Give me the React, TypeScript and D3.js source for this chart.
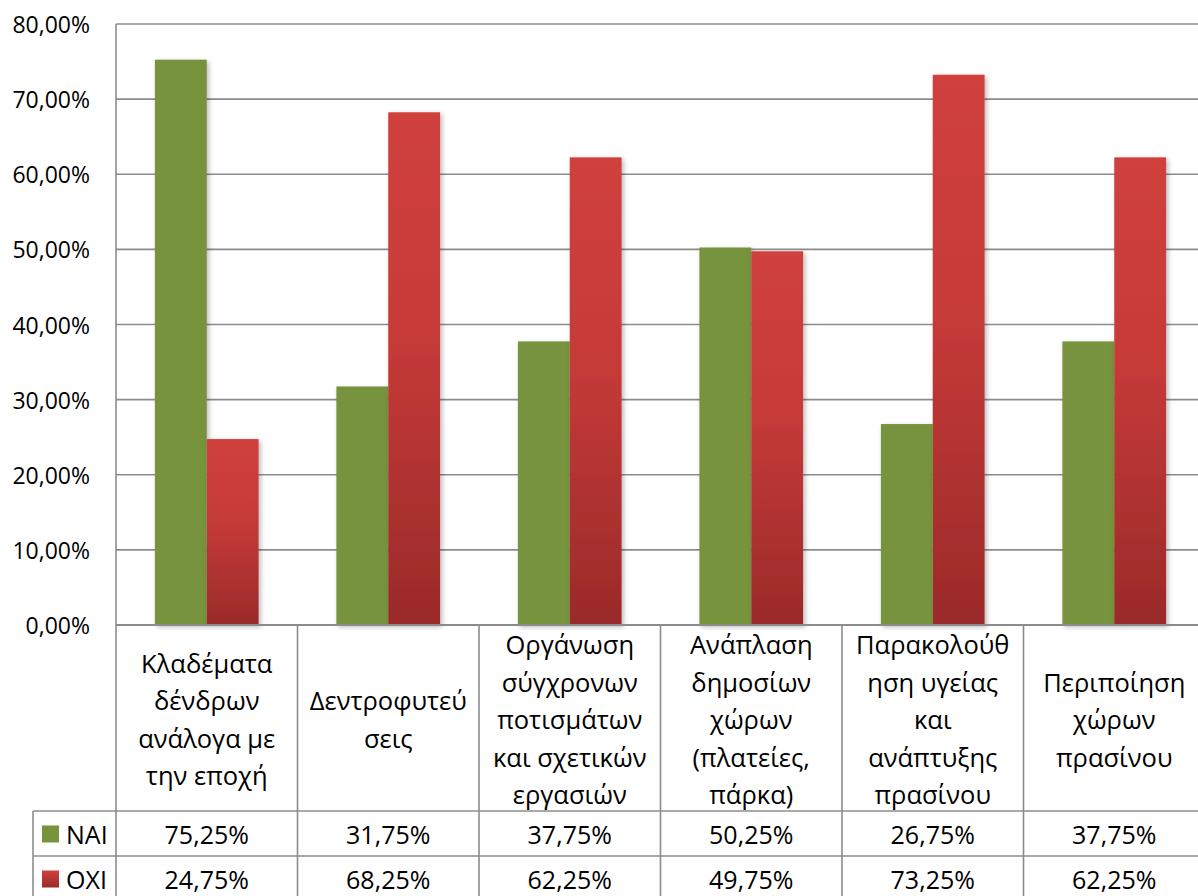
import React from "react";
import * as d3 from "d3";

const categories: string[][] = [
  ["Κλαδέματα", "δένδρων", "ανάλογα με", "την εποχή"],
  ["Δεντροφυτεύ", "σεις"],
  ["Οργάνωση", "σύγχρονων", "ποτισμάτων", "και σχετικών", "εργασιών"],
  ["Ανάπλαση", "δημοσίων", "χώρων", "(πλατείες,", "πάρκα)"],
  ["Παρακολούθ", "ηση υγείας", "και", "ανάπτυξης", "πρασίνου"],
  ["Περιποίηση", "χώρων", "πρασίνου"],
];
const seriesNames = ["NAI", "OXI"];
const naiValues = [75.25, 31.75, 37.75, 50.25, 26.75, 37.75];
const oxiValues = [24.75, 68.25, 62.25, 49.75, 73.25, 62.25];
const yTicks = [0, 10, 20, 30, 40, 50, 60, 70, 80];

const W = 1198;
const H = 896;
const plotLeft = 116;
const plotTop = 24;
const plotBottom = 625;
const catWidth = 181.5;
const headerBottom = 811;
const row1Bottom = 856;
const row2Bottom = 901;
const tableLeft = 33;
const FONT = "'Open Sans', 'Noto Sans', sans-serif";
const GRID = "#8c8c8c";
const GREEN = "#77933c";

const fmt = (v: number) => v.toFixed(2).replace(".", ",") + "%";

export default function App() {
  const x0 = d3
    .scaleBand<number>()
    .domain(categories.map((_, i) => i))
    .range([plotLeft, plotLeft + catWidth * categories.length])
    .paddingInner(0)
    .paddingOuter(0);
  const barW = catWidth / 3.5;
  const x1 = d3
    .scaleBand<number>()
    .domain([0, 1])
    .range([x0.bandwidth() / 2 - barW, x0.bandwidth() / 2 + barW]);
  const y = d3.scaleLinear().domain([0, 80]).range([plotBottom, plotTop]);
  const series = [naiValues, oxiValues];
  const rightEdge = plotLeft + catWidth * categories.length;
  const lineH = 37.5;
  const headerMid = (plotBottom + headerBottom) / 2 + 1;

  return (
    <svg
      width={W}
      height={H}
      style={{ position: "absolute", left: 0, top: 0, background: "#fff" }}
      fontFamily={FONT}
    >
      <defs>
        <linearGradient id="redGrad" x1="0" y1="0" x2="0" y2="1">
          <stop offset="0%" stopColor="#d0403d" />
          <stop offset="45%" stopColor="#c53a38" />
          <stop offset="100%" stopColor="#9a2a29" />
        </linearGradient>
        <linearGradient id="redLegend" x1="0" y1="0" x2="0" y2="1">
          <stop offset="0%" stopColor="#d0403d" />
          <stop offset="100%" stopColor="#9a2a29" />
        </linearGradient>
        <filter id="shadow" x="-20%" y="-5%" width="140%" height="110%">
          <feDropShadow dx="2" dy="2" stdDeviation="2.5" floodColor="#000" floodOpacity="0.28" />
        </filter>
      </defs>

      {/* gridlines */}
      {yTicks.map((t) => (
        <line key={t} x1={plotLeft} x2={rightEdge} y1={y(t)} y2={y(t)} stroke={GRID} strokeWidth={1.6} />
      ))}
      {/* tick labels */}
      {yTicks.map((t) => (
        <text
          key={"l" + t}
          x={90}
          y={y(t)}
          textAnchor="end"
          dominantBaseline="central"
          fontSize={23}
          fill="#000"
        >
          {fmt(t)}
        </text>
      ))}

      {/* bars */}
      {categories.map((_, i) => (
        <g key={"g" + i} transform={`translate(${x0(i)},0)`}>
          {series.map((vals, s) => (
            <rect
              key={s}
              x={x1(s)}
              y={y(vals[i])}
              width={x1.bandwidth()}
              height={plotBottom - y(vals[i])}
              fill={s === 0 ? GREEN : "url(#redGrad)"}
              filter="url(#shadow)"
            />
          ))}
        </g>
      ))}

      {/* axis line at 0 */}
      <line x1={plotLeft} x2={rightEdge} y1={plotBottom} y2={plotBottom} stroke={GRID} strokeWidth={2} />
      {/* left vertical line */}
      <line x1={plotLeft} x2={plotLeft} y1={plotTop} y2={H} stroke={GRID} strokeWidth={1.6} />

      {/* table lines */}
      {categories.map((_, i) =>
        i === 0 ? null : (
          <line
            key={"v" + i}
            x1={x0(i)!}
            x2={x0(i)!}
            y1={plotBottom}
            y2={H}
            stroke={GRID}
            strokeWidth={1.6}
          />
        )
      )}
      <line x1={tableLeft} x2={rightEdge} y1={headerBottom} y2={headerBottom} stroke={GRID} strokeWidth={1.6} />
      <line x1={tableLeft} x2={rightEdge} y1={row1Bottom} y2={row1Bottom} stroke={GRID} strokeWidth={1.6} />
      <line x1={tableLeft} x2={rightEdge} y1={row2Bottom} y2={row2Bottom} stroke={GRID} strokeWidth={1.6} />
      <line x1={tableLeft} x2={tableLeft} y1={headerBottom} y2={H} stroke={GRID} strokeWidth={1.6} />

      {/* category labels */}
      {categories.map((lines, i) => {
        const cx = x0(i)! + catWidth / 2;
        const start = headerMid - ((lines.length - 1) * lineH) / 2;
        return (
          <text key={"c" + i} textAnchor="middle" fontSize={25.5} fill="#000">
            {lines.map((ln, k) => (
              <tspan key={k} x={cx} y={start + k * lineH} dominantBaseline="central">
                {ln}
              </tspan>
            ))}
          </text>
        );
      })}

      {/* data rows */}
      {series.map((vals, s) => {
        const top = s === 0 ? headerBottom : row1Bottom;
        const bottom = s === 0 ? row1Bottom : row2Bottom;
        const cy = (top + bottom) / 2;
        return (
          <g key={"r" + s}>
            <rect x={42} y={cy - 8} width={17} height={17} fill={s === 0 ? GREEN : "url(#redLegend)"} />
            <text x={66} y={cy} dominantBaseline="central" fontSize={25} fill="#000">
              {seriesNames[s]}
            </text>
            {vals.map((v, i) => (
              <text
                key={i}
                x={x0(i)! + catWidth / 2}
                y={cy}
                textAnchor="middle"
                dominantBaseline="central"
                fontSize={25}
                fill="#000"
              >
                {fmt(v)}
              </text>
            ))}
          </g>
        );
      })}
    </svg>
  );
}
